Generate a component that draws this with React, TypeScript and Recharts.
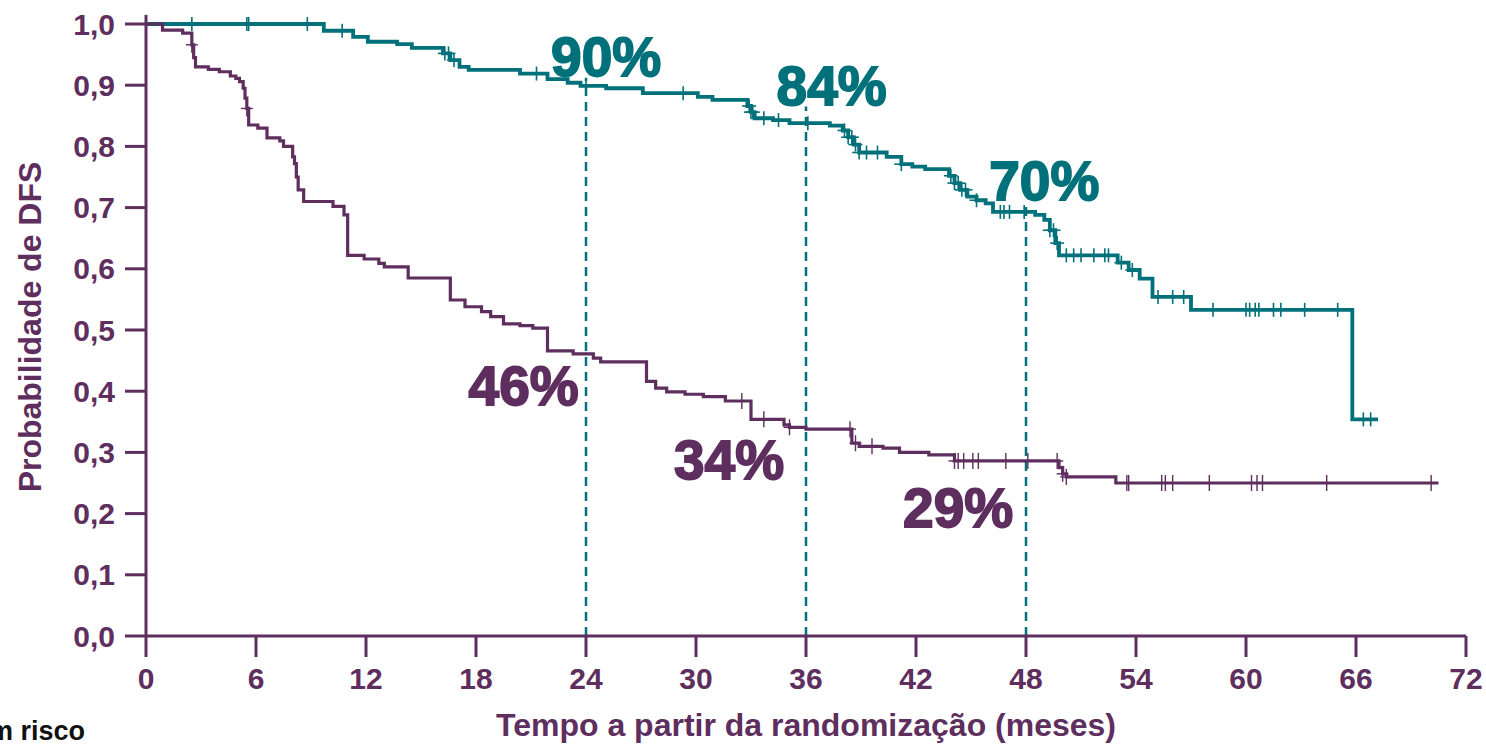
import { ComposedChart, Line, XAxis, YAxis, ReferenceLine, ReferenceDot, Label } from "recharts"

const PURPLE = "#5d2e5e"
const TEAL = "#00717a"

// Kaplan-Meier step points (time in months -> DFS probability)
const tealT = [0, 9.7, 11.3, 12.1, 13.7, 14.5, 16.2, 16.6, 17.1, 17.6, 20.4, 21.9, 23.0, 23.7, 25.1, 27.1, 30.1, 30.9, 32.8, 33.0, 33.2, 34.2, 35.1, 37.3, 38.0, 38.3, 38.6, 38.9, 40.4, 41.2, 41.8, 42.5, 43.8, 44.1, 44.4, 44.8, 45.3, 45.8, 46.2, 48.5, 49.0, 49.3, 49.6, 49.8, 53.0, 53.6, 54.2, 54.9, 57.0, 65.8, 67.2]
const tealS = [1.0, 0.989, 0.979, 0.971, 0.967, 0.961, 0.952, 0.941, 0.93, 0.925, 0.919, 0.91, 0.904, 0.899, 0.895, 0.887, 0.881, 0.876, 0.866, 0.856, 0.846, 0.843, 0.838, 0.834, 0.826, 0.815, 0.803, 0.79, 0.783, 0.771, 0.767, 0.763, 0.752, 0.74, 0.729, 0.718, 0.712, 0.707, 0.693, 0.688, 0.68, 0.663, 0.642, 0.622, 0.61, 0.598, 0.584, 0.554, 0.533, 0.354, 0.354]
const tealCensor = [2.5, 5.5, 5.6, 8.8, 10.7, 16.3, 16.5, 16.8, 21.3, 24.0, 29.3, 32.9, 33.0, 33.1, 33.7, 34.5, 36.1, 38.1, 38.3, 38.5, 38.7, 38.9, 39.3, 39.9, 41.2, 43.9, 44.1, 44.3, 44.5, 44.7, 45.3, 46.6, 46.8, 47.1, 47.9, 49.3, 49.5, 49.7, 50.2, 50.6, 51.0, 51.7, 52.3, 52.5, 53.2, 53.8, 55.2, 56.0, 56.6, 58.2, 60.0, 60.2, 60.5, 60.7, 61.5, 61.9, 63.2, 65.0, 66.4, 66.8]

const ctrlT = [0, 0.9, 2.0, 2.5, 2.6, 2.7, 3.4, 4.0, 4.6, 4.9, 5.1, 5.3, 5.4, 5.5, 5.6, 6.1, 6.6, 7.3, 7.5, 8.0, 8.1, 8.2, 8.3, 8.6, 10.2, 10.8, 11.0, 11.9, 12.7, 13.0, 14.3, 16.6, 17.4, 18.3, 18.8, 19.5, 20.4, 21.1, 21.9, 23.3, 24.4, 24.8, 27.3, 27.8, 28.4, 29.4, 30.4, 31.6, 33.0, 34.8, 35.1, 36.0, 38.5, 38.9, 40.2, 41.1, 42.7, 44.1, 49.8, 50.0, 50.2, 52.9, 70.5]
const ctrlS = [1.0, 0.99, 0.985, 0.966, 0.945, 0.93, 0.926, 0.922, 0.915, 0.911, 0.906, 0.895, 0.879, 0.862, 0.835, 0.83, 0.814, 0.809, 0.8, 0.783, 0.772, 0.75, 0.729, 0.71, 0.702, 0.688, 0.622, 0.616, 0.609, 0.603, 0.585, 0.549, 0.538, 0.53, 0.522, 0.51, 0.507, 0.503, 0.466, 0.461, 0.454, 0.448, 0.416, 0.405, 0.399, 0.395, 0.391, 0.384, 0.354, 0.345, 0.341, 0.338, 0.315, 0.31, 0.307, 0.3, 0.296, 0.286, 0.275, 0.265, 0.26, 0.25, 0.25]
const ctrlCensor = [2.5, 5.5, 32.5, 33.7, 35.1, 38.4, 38.7, 39.6, 44.1, 44.3, 44.6, 45.1, 45.4, 46.9, 48.1, 49.7, 50.0, 50.2, 53.5, 53.6, 55.4, 55.6, 56.0, 58.0, 60.3, 60.6, 60.9, 64.4, 70.1]

const xTicks = [0, 6, 12, 18, 24, 30, 36, 42, 48, 54, 60, 66, 72]
const yTicks = [0, 0.1, 0.2, 0.3, 0.4, 0.5, 0.6, 0.7, 0.8, 0.9, 1.0]

// landmark times and where the dashed marker stops
const markT = [24, 36, 48]
const markTop = [0.912, 0.865, 0.707]

const tealPct = ["90%", "84%", "70%"]
const tealPctT = [25.1, 37.4, 49.0]
const tealPctY = [0.948, 0.9, 0.745]
const ctrlPct = ["46%", "34%", "29%"]
const ctrlPctT = [20.6, 31.8, 44.3]
const ctrlPctY = [0.41, 0.289, 0.211]

function build(times: number[], surv: number[], censor: number[]) {
  const pts = times.map((t, i) => ({ t, s: surv[i], c: false }))
  censor.forEach((t) => {
    let s = surv[0]
    for (let i = 0; i < times.length; i++) if (times[i] <= t) s = surv[i]
    pts.push({ t, s, c: true })
  })
  return pts.sort((a, b) => a.t - b.t || (a.c ? 1 : 0) - (b.c ? 1 : 0))
}

const tealData = build(tealT, tealS, tealCensor)
const ctrlData = build(ctrlT, ctrlS, ctrlCensor)

const cross = (color: string, h: number, w: number, sw: number) => (p: any) => {
  if (!p.payload || !p.payload.c) return <g key={`n-${p.index}`} />
  return (
    <g key={`c-${p.index}`} stroke={color} strokeWidth={sw}>
      <line x1={p.cx} y1={p.cy - h} x2={p.cx} y2={p.cy + h} />
      <line x1={p.cx - w} y1={p.cy} x2={p.cx + w} y2={p.cy} />
    </g>
  )
}

const FONT = "'Liberation Sans', Arial, sans-serif"

const pctShape = (text: string, color: string) => (p: any) => (
  <text
    x={p.cx}
    y={p.cy}
    dy="0.36em"
    textAnchor="middle"
    fontFamily={FONT}
    fontWeight="bold"
    fontSize={55}
    fill={color}
    stroke={color}
    strokeWidth={1.8}
  >
    {text}
  </text>
)

const tickStyle = {
  fontFamily: FONT,
  fontWeight: "bold",
  fontSize: 30,
  fill: PURPLE,
}

export default function App() {
  return (
    <div style={{ position: "absolute", left: 0, top: 0, background: "#fff" }}>
      <ComposedChart width={1486} height={745} margin={{ top: 24, right: 20, left: 0, bottom: 49 }}>
        <XAxis
          type="number"
          dataKey="t"
          domain={[0, 72]}
          ticks={xTicks}
          interval={0}
          allowDataOverflow
          height={60}
          stroke={PURPLE}
          strokeWidth={3}
          tickSize={21}
          tickMargin={11}
          tick={tickStyle}
          tickLine={{ stroke: PURPLE, strokeWidth: 3 }}
        >
          <Label
            content={(props: any) => {
              const vb = props.viewBox
              return (
                <g>
                  <text
                    x={vb.x + vb.width / 2}
                    y={vb.y + 100}
                    textAnchor="middle"
                    fontFamily={FONT}
                    fontWeight="bold"
                    fontSize={32}
                    fill={PURPLE}
                  >
                    Tempo a partir da randomização (meses)
                  </text>
                  <text
                    x={85}
                    y={vb.y + 104}
                    textAnchor="end"
                    fontFamily={FONT}
                    fontWeight="bold"
                    fontSize={27}
                    fill="#111"
                  >
                    Número em risco
                  </text>
                </g>
              )
            }}
          />
        </XAxis>
        <YAxis
          type="number"
          dataKey="s"
          domain={[0, 1]}
          ticks={yTicks}
          interval={0}
          width={146}
          stroke={PURPLE}
          strokeWidth={3}
          tickSize={21}
          tickMargin={10}
          tick={tickStyle}
          tickLine={{ stroke: PURPLE, strokeWidth: 3 }}
          tickFormatter={(v: number) => v.toFixed(1).replace(".", ",")}
        >
          <Label
            content={(props: any) => {
              const vb = props.viewBox
              const cx = 29
              const cy = vb.y + vb.height / 2 - 3
              return (
                <text
                  x={cx}
                  y={cy}
                  dy="0.36em"
                  textAnchor="middle"
                  transform={`rotate(-90 ${cx} ${cy})`}
                  fontFamily={FONT}
                  fontWeight="bold"
                  fontSize={32}
                  fill={PURPLE}
                >
                  Probabilidade de DFS
                </text>
              )
            }}
          />
        </YAxis>

        <ReferenceLine
          segment={[{ x: 0, y: 1 }, { x: 0, y: 1.015 }]}
          stroke={PURPLE}
          strokeWidth={3}
          ifOverflow="visible"
        />

        {markT.map((t, i) => (
          <ReferenceLine
            key={`m-${t}`}
            segment={[{ x: t, y: 0 }, { x: t, y: markTop[i] }]}
            stroke={TEAL}
            strokeWidth={2.5}
            strokeDasharray="9 6"
          />
        ))}

        <Line
          data={tealData}
          dataKey="s"
          type="stepAfter"
          stroke={TEAL}
          strokeWidth={3.8}
          dot={cross(TEAL, 7, 7, 1.6)}
          activeDot={false}
          isAnimationActive={false}
        />
        <Line
          data={ctrlData}
          dataKey="s"
          type="stepAfter"
          stroke={PURPLE}
          strokeWidth={3.2}
          dot={cross(PURPLE, 8, 6, 1.4)}
          activeDot={false}
          isAnimationActive={false}
        />

        {tealPct.map((txt, i) => (
          <ReferenceDot key={`tp-${i}`} x={tealPctT[i]} y={tealPctY[i]} r={0} shape={pctShape(txt, TEAL)} />
        ))}
        {ctrlPct.map((txt, i) => (
          <ReferenceDot key={`cp-${i}`} x={ctrlPctT[i]} y={ctrlPctY[i]} r={0} shape={pctShape(txt, PURPLE)} />
        ))}
      </ComposedChart>
    </div>
  )
}
